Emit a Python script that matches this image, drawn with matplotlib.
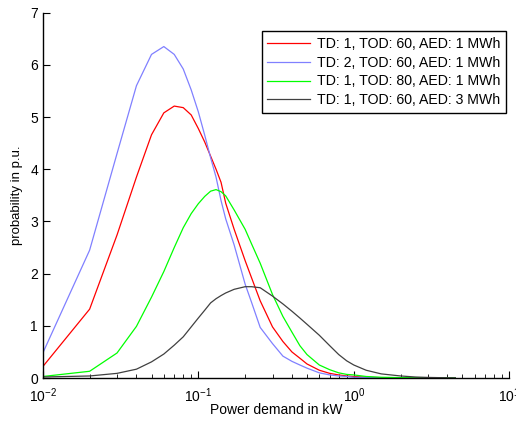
import numpy as np
import matplotlib
matplotlib.use('Agg')
import matplotlib.pyplot as plt

plt.rcParams['font.family'] = ['Liberation Sans', 'DejaVu Sans']

# power demand in kW (sample points)
power = [0.01, 0.02, 0.03, 0.04, 0.05, 0.06, 0.07, 0.08, 0.09, 0.10,
         0.11, 0.12, 0.13, 0.14, 0.15, 0.17, 0.20, 0.22, 0.25, 0.30,
         0.35, 0.40, 0.45, 0.50, 0.60, 0.70, 0.80, 0.90, 1.0, 1.2,
         1.5, 2.0, 2.5, 3.0, 4.0, 4.5]

red = [0.22, 1.32, 2.74, 3.85, 4.66, 5.08, 5.21, 5.18, 5.04, 4.78,
       4.52, 4.25, 4.00, 3.75, 3.35, 2.85, 2.25, 1.92, 1.48, 0.98,
       0.70, 0.50, 0.38, 0.27, 0.15, 0.09, 0.06, 0.04, 0.03, 0.015,
       0.008, 0.003, 0.002, 0.001, 0.0, 0.0]

blue = [0.48, 2.45, 4.30, 5.60, 6.20, 6.35, 6.20, 5.92, 5.52, 5.10,
        4.65, 4.22, 3.85, 3.40, 3.05, 2.55, 1.80, 1.45, 0.97, 0.66,
        0.42, 0.32, 0.25, 0.19, 0.10, 0.06, 0.04, 0.03, 0.015, 0.01,
        0.005, 0.002, 0.001, 0.0, 0.0, 0.0]

green = [0.03, 0.13, 0.48, 0.99, 1.55, 2.04, 2.50, 2.88, 3.15, 3.34,
         3.48, 3.58, 3.61, 3.57, 3.49, 3.22, 2.85, 2.57, 2.20, 1.60,
         1.18, 0.88, 0.62, 0.45, 0.25, 0.16, 0.10, 0.07, 0.06, 0.03,
         0.015, 0.008, 0.005, 0.003, 0.002, 0.001]

black = [0.02, 0.04, 0.09, 0.17, 0.31, 0.46, 0.63, 0.79, 0.98, 1.15,
         1.30, 1.44, 1.52, 1.58, 1.63, 1.70, 1.75, 1.75, 1.73, 1.57,
         1.42, 1.28, 1.15, 1.03, 0.82, 0.62, 0.45, 0.33, 0.25, 0.15,
         0.08, 0.04, 0.02, 0.012, 0.005, 0.003]

labels = ['TD: 1, TOD: 60, AED: 1 MWh',
          'TD: 2, TOD: 60, AED: 1 MWh',
          'TD: 1, TOD: 80, AED: 1 MWh',
          'TD: 1, TOD: 60, AED: 3 MWh']

fig = plt.figure(figsize=(5.16, 4.21), dpi=100)
ax = fig.add_axes([0.083, 0.102, 0.904, 0.868])

ax.plot(power, red, color='#ff0000', lw=0.9, label=labels[0])
ax.plot(power, blue, color='#8080ff', lw=0.9, label=labels[1])
ax.plot(power, green, color='#00ff00', lw=0.9, label=labels[2])
ax.plot(power, black, color='#404040', lw=0.9, label=labels[3])

ax.set_xscale('log')
ax.set_xlim(0.01, 10)
ax.set_ylim(0, 7)
ax.set_yticks(range(8))

for s in ['top', 'right']:
    ax.spines[s].set_visible(False)
for s in ['left', 'bottom']:
    ax.spines[s].set_linewidth(1.0)

ax.tick_params(which='both', direction='in', labelsize=10)
ax.tick_params(which='major', length=5)
ax.tick_params(which='minor', length=3)
ax.tick_params(axis='x', which='major', pad=6)

ax.set_xlabel('Power demand in kW', fontsize=10)
ax.xaxis.set_label_coords(0.5, -0.068)
ax.set_ylabel('probability in p.u.', fontsize=9.5, labelpad=5)

leg = ax.legend(loc='upper right', bbox_to_anchor=(0.993, 0.95), fontsize=10.2,
                fancybox=False, framealpha=1, edgecolor='black',
                handlelength=3.0, borderpad=0.4, labelspacing=0.35,
                handletextpad=0.5, borderaxespad=0)
leg.get_frame().set_linewidth(1.0)

fig.savefig('out.png', dpi=100)
